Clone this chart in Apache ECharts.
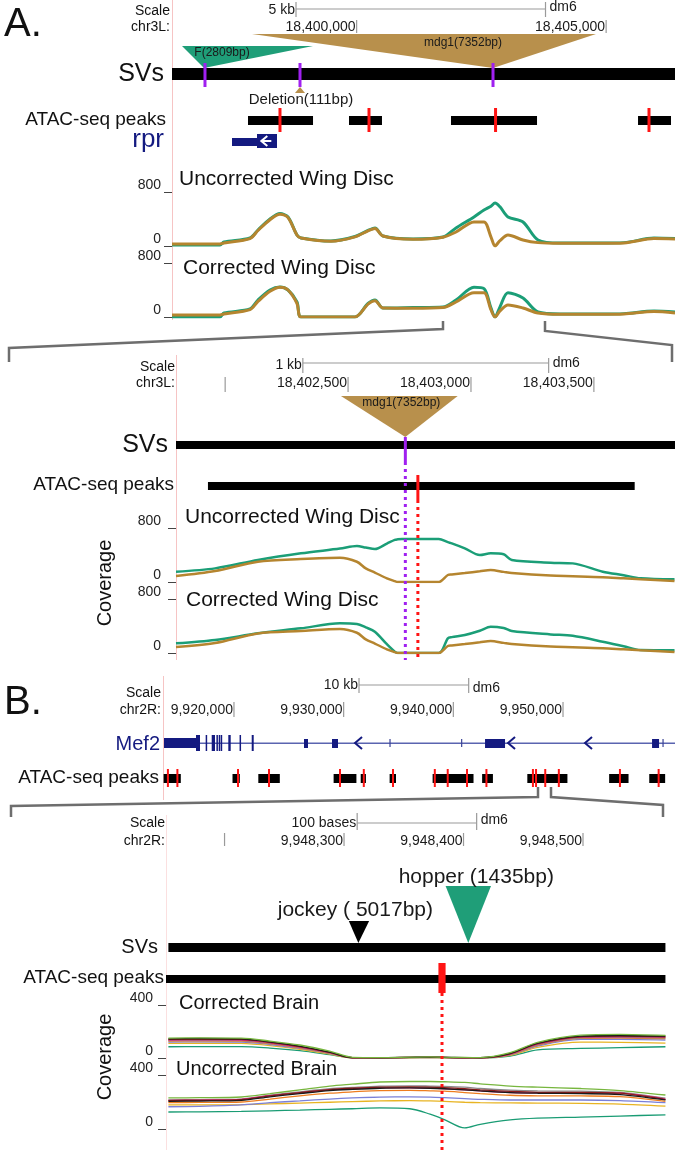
<!DOCTYPE html>
<html><head><meta charset="utf-8">
<script src="https://cdn.jsdelivr.net/npm/echarts@6/dist/echarts.min.js"></script>
<style>html,body{margin:0;padding:0;background:#fff}#c{width:675px;height:1150px}</style>
</head><body><div id="c"></div>
<script>
// ================= DATA =================
// ---- Panel A overview (chr3L) ----
const A_domain = [18396300, 18406380];
const A_ticks = [18400000, 18405000];
const A_tickLabels = ['18,400,000', '18,405,000'];
const A_scaleBar = [18398785, 18403785];
const A_svSpan = [18396300, 18406380];
const A_mdg1 = [18402733, 18397903, 18404797];   // insertion point, glyph left, glyph right
const A_F = [18396941, 18396500, 18399126];
const A_breakpoints = [18396961, 18398865, 18402733];
const A_deletion = [18398865];
const A_peaks = [[18397823, 18399126], [18399847, 18400508], [18401891, 18403615], [18405639, 18406300]];
const A_summits = [18398464, 18400248, 18402784, 18405859];
const A_rprUtr = [[18397502, 18398003]];
const A_rprCds = [[18398003, 18398404]];
const A_rprArrow = [18398110];
const A_covPos = [18396300, 18397262, 18397342, 18397863, 18398023, 18398264, 18398464, 18398625, 18398805, 18398885, 18399486, 18399967, 18400228, 18400368, 18400528, 18401130, 18401731, 18401991, 18402352, 18402552, 18402693, 18402773, 18402873, 18403033, 18403334, 18403635, 18404076, 18404877, 18405358, 18405959, 18406380];
const A_uncorGreen = [15, 15, 59, 119, 237, 400, 480, 430, 163, 120, 74, 140, 230, 267, 148, 104, 133, 267, 430, 533, 590, 637, 580, 430, 356, 89, 44, 44, 50, 119, 110];
const A_uncorBrown = [30, 30, 45, 110, 230, 390, 470, 420, 160, 118, 70, 135, 225, 260, 148, 100, 130, 207, 356, 356, 133, 0, 80, 163, 89, 50, 40, 40, 45, 110, 105];
const A_corGreen = [0, 0, 59, 119, 252, 400, 444, 400, 222, 0, 0, 0, 200, 252, 133, 140, 148, 252, 440, 420, 133, 0, 150, 360, 281, 74, 44, 44, 50, 89, 74];
const A_corBrown = [30, 30, 45, 110, 230, 380, 440, 400, 200, 0, 0, 0, 190, 240, 133, 130, 140, 222, 360, 360, 104, 0, 90, 178, 133, 59, 40, 40, 45, 80, 60];

// ---- Panel A zoom ----
const Az_domain = [18401800, 18403830];
const Az_ticks = [18402000, 18402500, 18403000, 18403500];
const Az_tickLabels = ['', '18,402,500', '18,403,000', '18,403,500'];
const Az_scaleBar = [18402316, 18403316];
const Az_svSpan = [18401800, 18403830];
const Az_mdg1 = [18402733, 18402471, 18402946];
const Az_breakpoint = [18402733];
const Az_peaks = [[18401930, 18403666]];
const Az_summit = [18402784];
const Az_covPos = [18401800, 18401959, 18402133, 18402308, 18402467, 18402536, 18402572, 18402609, 18402658, 18402690, 18402702, 18402719, 18402869, 18402906, 18402922, 18402975, 18403036, 18403080, 18403133, 18403166, 18403324, 18403414, 18403536, 18403621, 18403690, 18403828];
const Az_uncorGreen = [153, 202, 326, 425, 495, 533, 510, 489, 570, 625, 632, 637, 637, 590, 573, 499, 400, 425, 410, 326, 286, 276, 153, 100, 54, 39];
const Az_uncorBrown = [89, 163, 301, 341, 361, 300, 202, 140, 54, 12, 0, 0, 0, 104, 112, 133, 158, 178, 150, 133, 95, 86, 72, 54, 40, 15];
const Az_corGreen = [143, 193, 291, 365, 440, 430, 380, 316, 130, 20, 0, 0, 0, 217, 235, 267, 330, 390, 370, 326, 275, 255, 168, 100, 44, 40];
const Az_corBrown = [89, 148, 290, 326, 356, 300, 202, 140, 54, 12, 0, 0, 0, 104, 112, 133, 158, 178, 150, 133, 95, 86, 72, 54, 40, 15];

// ---- Panel B overview (chr2R) ----
const B_domain = [9913530, 9960210];
const B_ticks = [9920000, 9930000, 9940000, 9950000];
const B_tickLabels = ['9,920,000', '9,930,000', '9,940,000', '9,950,000'];
const B_scaleBar = [9931400, 9941400];
const B_mef2Span = [9913621, 9960210];
const B_mef2Utr = [[9913621, 9916539]];
const B_mef2Cds = [[9916539, 9916904], [9917420, 9917520], [9917971, 9918271], [9918400, 9918470], [9918610, 9918680], [9918790, 9918860], [9919484, 9919703], [9920510, 9920600], [9921618, 9921800]];
const B_mef2Small = [[9926387, 9926752], [9928939, 9929486], [9942890, 9944714], [9958117, 9958756]];
const B_mef2Thin = [9934228, 9940760, 9959120];
const B_mef2Arrows = [9931037, 9944987, 9952006];
const B_peaks = [[9913585, 9915153], [9919867, 9920533], [9922220, 9924180], [9929085, 9931164], [9931556, 9932030], [9934191, 9934775], [9938112, 9941841], [9942625, 9943610], [9946746, 9950402], [9954205, 9955974], [9957862, 9959312]];
const B_summits = [9913977, 9914843, 9920368, 9923195, 9929669, 9931838, 9934502, 9938312, 9939488, 9941249, 9943018, 9947257, 9947540, 9948380, 9949619, 9955190, 9958719];

// ---- Panel B zoom ----
const Bz_domain = [9948151, 9948577];
const Bz_ticks = [9948200, 9948300, 9948400, 9948500];
const Bz_tickLabels = ['', '9,948,300', '9,948,400', '9,948,500'];
const Bz_scaleBar = [9948311, 9948411];
const Bz_hopper = [9948404, 9948385, 9948423];
const Bz_jockey = [9948312, 9948304, 9948321];
const Bz_svSpan = [9948153, 9948569];
const Bz_peaks = [[9948151, 9948569]];
const Bz_summit = [[9948379, 9948385]];
const Bz_summitLine = [9948382];
const Bz_covPos = [9948153, 9948179, 9948214, 9948238, 9948263, 9948288, 9948307, 9948330, 9948355, 9948372, 9948384, 9948401, 9948414, 9948439, 9948462, 9948498, 9948531, 9948569];
const brainNames = ['teal', 'yellow', 'blue', 'orange', 'gray', 'pink', 'darkred', 'black', 'green'];
const Bz_corrected = {
  green:   [150, 152, 150, 128, 98, 52, 5, 3, 6, 8, 6, 4, 3, 40, 118, 172, 178, 170],
  black:   [145, 147, 145, 122, 90, 45, 3, 2, 5, 7, 5, 3, 2, 35, 112, 165, 170, 165],
  darkred: [140, 142, 140, 118, 86, 42, 2, 2, 4, 6, 4, 2, 2, 32, 108, 160, 165, 160],
  pink:    [135, 137, 136, 115, 82, 40, 2, 2, 4, 5, 4, 2, 2, 30, 104, 158, 160, 158],
  gray:    [132, 134, 132, 112, 80, 38, 2, 2, 4, 5, 4, 2, 2, 28, 100, 152, 155, 152],
  orange:  [128, 130, 128, 108, 77, 36, 2, 1, 3, 4, 3, 1, 1, 26, 96, 148, 150, 146],
  blue:    [120, 122, 120, 102, 72, 34, 2, 1, 3, 4, 3, 1, 1, 24, 90, 140, 140, 136],
  yellow:  [110, 112, 110, 94, 66, 30, 1, 1, 2, 3, 2, 1, 1, 20, 80, 120, 118, 113],
  teal:    [85, 86, 86, 75, 55, 25, 1, 1, 2, 3, 2, 1, 1, 15, 62, 72, 78, 85]
};
const Bz_uncorrected = {
  green:   [230, 232, 237, 262, 290, 318, 332, 348, 352, 352, 350, 345, 335, 318, 310, 300, 285, 252],
  gray:    [215, 218, 222, 250, 275, 298, 308, 318, 320, 318, 316, 310, 300, 288, 282, 280, 272, 228],
  darkred: [210, 212, 218, 245, 270, 292, 302, 310, 312, 310, 306, 298, 290, 278, 272, 272, 265, 218],
  pink:    [212, 214, 220, 247, 268, 290, 298, 304, 305, 302, 298, 290, 282, 270, 268, 270, 265, 222],
  black:   [205, 207, 212, 238, 262, 285, 294, 302, 304, 302, 298, 290, 282, 270, 265, 262, 255, 215],
  orange:  [195, 197, 200, 222, 245, 265, 275, 285, 286, 283, 280, 270, 262, 250, 246, 245, 240, 205],
  blue:    [165, 168, 178, 195, 208, 222, 230, 236, 238, 236, 232, 225, 220, 215, 215, 215, 210, 195],
  yellow:  [178, 179, 180, 186, 192, 198, 203, 208, 210, 208, 205, 198, 195, 193, 192, 190, 185, 170],
  teal:    [126, 127, 130, 135, 140, 146, 150, 156, 150, 110, 70, 8, 35, 67, 80, 88, 96, 105]
};

// ================= STYLE =================
const FONT = "'Liberation Sans', Arial, Helvetica, sans-serif";
const GREEN = '#1b9e77', BROWN = '#b5852f', TRI_BROWN = '#b8904c', TRI_GREEN = '#1f9e78';
const PURPLE = '#a020f0', RED = '#ff1414', NAVY = '#141a80', RULER = '#9a9a9a';
const brainColors = {green: '#77b63e', black: '#1a1a1a', darkred: '#8b1c1c', pink: '#e0257f', gray: '#8a8a8a', orange: '#ee7d1f', blue: '#7a80d8', yellow: '#e8b423', teal: '#1a9c74'};

const grids = [], xAxes = [], yAxes = [], series = [];
function addGrid(left, top, width, height, domain, yMax, cov) {
  const gi = grids.length;
  grids.push({left: left, top: top, width: width, height: height, containLabel: false, outerBoundsMode: 'none'});
  xAxes.push({gridIndex: gi, type: 'value', min: domain[0], max: domain[1], show: false, splitLine: {show: false}});
  if (cov) {
    yAxes.push({gridIndex: gi, type: 'value', min: 0, max: yMax, interval: yMax, show: true,
      axisLine: {show: false}, splitLine: {show: false},
      axisTick: {show: true, length: cov.tick, lineStyle: {color: '#444', width: 1}},
      axisLabel: {show: true, margin: cov.margin, fontSize: 14, fontFamily: FONT, color: '#222', verticalAlign: 'bottom'}});
  } else {
    yAxes.push({gridIndex: gi, type: 'value', min: 0, max: yMax, inverse: true, show: false, splitLine: {show: false}});
  }
  return gi;
}
function custom(gi, data, render, z) {
  return {type: 'custom', coordinateSystem: 'cartesian2d', xAxisIndex: gi, yAxisIndex: gi, data: data,
    renderItem: render, silent: true, animation: false, clip: false, z: z || 2};
}
function bars(gi, spans, y0, y1, color, minW) {
  return custom(gi, spans, function (p, api) {
    const a = api.coord([api.value(0), y0]), b = api.coord([api.value(1), y1]);
    const w = Math.max(b[0] - a[0], minW || 1);
    return {type: 'rect', shape: {x: a[0], y: a[1], width: w, height: b[1] - a[1]}, style: {fill: color}};
  });
}
function vmarks(gi, pos, y0, y1, color, w, dash, z) {
  return custom(gi, pos.map(v => [v, 0]), function (p, api) {
    const a = api.coord([api.value(0), y0]), b = api.coord([api.value(0), y1]);
    return {type: 'line', shape: {x1: a[0], y1: a[1], x2: b[0], y2: b[1]},
      style: {stroke: color, lineWidth: w, lineDash: dash || null}};
  }, z);
}
function ruler(gi, ticks, labels, t0, t1, ly) {
  return custom(gi, ticks.map((t, i) => [t, i]), function (p, api) {
    const i = api.value(1);
    const a = api.coord([api.value(0), t0]), b = api.coord([api.value(0), t1]), c = api.coord([api.value(0), ly]);
    const ch = [{type: 'line', shape: {x1: a[0], y1: a[1], x2: b[0], y2: b[1]}, style: {stroke: RULER, lineWidth: 1.2}}];
    if (labels[i]) ch.push({type: 'text', style: {text: labels[i], x: a[0] - 1, y: c[1], align: 'right', verticalAlign: 'middle', fontSize: 14, fontFamily: FONT, fill: '#1a1a1a'}});
    return {type: 'group', children: ch};
  });
}
function scaleBar(gi, span, label, by, t0, t1, ty, dy) {
  return custom(gi, [[span[0], span[1]]], function (p, api) {
    const a = api.coord([api.value(0), by]), b = api.coord([api.value(1), by]);
    const a0 = api.coord([api.value(0), t0]), a1 = api.coord([api.value(0), t1]);
    const b0 = api.coord([api.value(1), t0]), b1 = api.coord([api.value(1), t1]);
    const yt = api.coord([api.value(0), ty])[1], yd = api.coord([api.value(0), dy])[1];
    return {type: 'group', children: [
      {type: 'line', shape: {x1: a[0], y1: a[1], x2: b[0], y2: b[1]}, style: {stroke: RULER, lineWidth: 1.2}},
      {type: 'line', shape: {x1: a0[0], y1: a0[1], x2: a1[0], y2: a1[1]}, style: {stroke: RULER, lineWidth: 1.2}},
      {type: 'line', shape: {x1: b0[0], y1: b0[1], x2: b1[0], y2: b1[1]}, style: {stroke: RULER, lineWidth: 1.2}},
      {type: 'text', style: {text: label, x: a[0] - 1, y: yt, align: 'right', verticalAlign: 'middle', fontSize: 14, fontFamily: FONT, fill: '#1a1a1a'}},
      {type: 'text', style: {text: 'dm6', x: b[0] + 4, y: yd, align: 'left', verticalAlign: 'middle', fontSize: 14, fontFamily: FONT, fill: '#1a1a1a'}}
    ]};
  });
}
function triangle(gi, tri, yTop, yApex, color, label, ly, fs, dx, z) {
  return custom(gi, [tri], function (p, api) {
    const ap = api.coord([api.value(0), yApex]), l = api.coord([api.value(1), yTop]), r = api.coord([api.value(2), yTop]);
    const yl = api.coord([api.value(0), ly])[1];
    return {type: 'group', children: [
      {type: 'polygon', shape: {points: [l, r, ap]}, style: {fill: color}},
      {type: 'text', style: {text: label, x: ap[0] + dx, y: yl, align: 'center', verticalAlign: 'middle', fontSize: fs, fontFamily: FONT, fill: '#1a1a1a'}}
    ]};
  }, z);
}
function lineSeries(gi, pos, vals, color, width, smooth, z) {
  return {type: 'line', xAxisIndex: gi, yAxisIndex: gi, data: pos.map((x, i) => [x, vals[i]]),
    showSymbol: false, symbol: 'none', smooth: smooth, lineStyle: {color: color, width: width},
    silent: true, animation: false, z: z || 3};
}
function chevrons(gi, pos, y, color, w, h, lw, z) {
  return custom(gi, pos.map(v => [v, 0]), function (p, api) {
    const c = api.coord([api.value(0), y]);
    return {type: 'polyline', shape: {points: [[c[0] + w, c[1] - h], [c[0], c[1]], [c[0] + w, c[1] + h]]},
      style: {stroke: color, lineWidth: lw, fill: null}};
  }, z);
}

// ================= LAYOUT =================
// Panel A overview
const gA = addGrid(172, 0, 503, 150, A_domain, 150);
const gA1 = addGrid(172, 192, 503, 54, A_domain, 800, {tick: 8, margin: 11});
const gA2 = addGrid(172, 263, 503, 54, A_domain, 800, {tick: 8, margin: 11});
series.push(scaleBar(gA, A_scaleBar, '5 kb', 9, 2, 17, 10, 7));
series.push(ruler(gA, A_ticks, A_tickLabels, 20, 33, 27));
series.push(triangle(gA, A_mdg1, 34, 68, TRI_BROWN, 'mdg1(7352bp)', 43, 12, -30, 2));
series.push(triangle(gA, A_F, 46, 68, TRI_GREEN, 'F(2809bp)', 53, 12, 18, 3));
series.push(bars(gA, [A_svSpan], 68, 80, '#000'));
series.push(vmarks(gA, A_breakpoints, 63, 87, PURPLE, 3, null, 4));
series.push(custom(gA, A_deletion.map(v => [v, 0]), function (p, api) {
  const c = api.coord([api.value(0), 87]), d = api.coord([api.value(0), 93]), t = api.coord([api.value(0), 100]);
  return {type: 'group', children: [
    {type: 'polygon', shape: {points: [[c[0], c[1]], [c[0] + 5, d[1]], [c[0] - 5, d[1]]]}, style: {fill: TRI_BROWN}},
    {type: 'text', style: {text: 'Deletion(111bp)', x: c[0] + 1, y: t[1], align: 'center', verticalAlign: 'middle', fontSize: 15, fontFamily: FONT, fill: '#1a1a1a'}}
  ]};
}, 4));
series.push(bars(gA, A_peaks, 116, 125, '#000'));
series.push(vmarks(gA, A_summits, 108, 132, RED, 3, null, 4));
series.push(bars(gA, A_rprUtr, 138, 146, NAVY));
series.push(bars(gA, A_rprCds, 134, 148, NAVY));
series.push(custom(gA, A_rprArrow.map(v => [v, 0]), function (p, api) {
  const c = api.coord([api.value(0), 141]);
  return {type: 'group', children: [
    {type: 'polyline', shape: {points: [[c[0] + 5, c[1] - 5], [c[0] - 1, c[1]], [c[0] + 5, c[1] + 5]]}, style: {stroke: '#fff', lineWidth: 2, fill: null}},
    {type: 'line', shape: {x1: c[0], y1: c[1], x2: c[0] + 9, y2: c[1]}, style: {stroke: '#fff', lineWidth: 2}}
  ]};
}, 4));
series.push(lineSeries(gA1, A_covPos, A_uncorGreen, GREEN, 3, 0.3, 3));
series.push(lineSeries(gA1, A_covPos, A_uncorBrown, BROWN, 3, 0.3, 4));
series.push(lineSeries(gA2, A_covPos, A_corGreen, GREEN, 3, 0.3, 3));
series.push(lineSeries(gA2, A_covPos, A_corBrown, BROWN, 3, 0.3, 4));

// Panel A zoom
const gZ = addGrid(176, 350, 499, 310, Az_domain, 310);
const gZ1 = addGrid(176, 528, 499, 54, Az_domain, 800, {tick: 8, margin: 15});
const gZ2 = addGrid(176, 599, 499, 54, Az_domain, 800, {tick: 8, margin: 15});
series.push(scaleBar(gZ, Az_scaleBar, '1 kb', 13, 8, 23, 15, 13));
series.push(ruler(gZ, Az_ticks, Az_tickLabels, 27, 42, 33));
series.push(triangle(gZ, Az_mdg1, 46, 87, TRI_BROWN, 'mdg1(7352bp)', 53, 12, -4, 2));
series.push(bars(gZ, [Az_svSpan], 91, 99, '#000'));
series.push(vmarks(gZ, Az_breakpoint, 87, 112, PURPLE, 3, null, 5));
series.push(vmarks(gZ, Az_breakpoint, 112, 310, PURPLE, 3, [3, 4], 6));
series.push(bars(gZ, Az_peaks, 132, 140, '#000'));
series.push(vmarks(gZ, Az_summit, 125, 150, RED, 3, null, 5));
series.push(vmarks(gZ, Az_summit, 150, 310, RED, 3, [3, 4], 6));
series.push(lineSeries(gZ1, Az_covPos, Az_uncorGreen, GREEN, 2.5, 0.3, 3));
series.push(lineSeries(gZ1, Az_covPos, Az_uncorBrown, BROWN, 2.5, 0.3, 4));
series.push(lineSeries(gZ2, Az_covPos, Az_corGreen, GREEN, 2.5, 0.3, 3));
series.push(lineSeries(gZ2, Az_covPos, Az_corBrown, BROWN, 2.5, 0.3, 4));

// Panel B overview
const gB = addGrid(163, 675, 512, 125, B_domain, 125);
series.push(scaleBar(gB, B_scaleBar, '10 kb', 10, 3, 18, 10, 13));
series.push(ruler(gB, B_ticks, B_tickLabels, 27, 42, 35));
series.push(bars(gB, [B_mef2Span], 67.5, 69, '#5a64b0'));
series.push(bars(gB, B_mef2Utr, 63, 73, NAVY));
series.push(bars(gB, B_mef2Cds, 60, 76, NAVY, 1.5));
series.push(bars(gB, B_mef2Small, 64, 73, NAVY, 1.5));
series.push(vmarks(gB, B_mef2Thin, 64, 72, '#3a4396', 1.2));
series.push(chevrons(gB, B_mef2Arrows, 68, NAVY, 7, 6, 2, 3));
series.push(bars(gB, B_peaks, 99, 108, '#000'));
series.push(vmarks(gB, B_summits, 94, 112, RED, 2, null, 4));

// Panel B zoom
const gC = addGrid(166, 815, 509, 335, Bz_domain, 335);
const gC1 = addGrid(166, 1005, 509, 53, Bz_domain, 400, {tick: 8, margin: 13});
const gC2 = addGrid(166, 1075, 509, 54, Bz_domain, 400, {tick: 8, margin: 13});
series.push(scaleBar(gC, Bz_scaleBar, '100 bases', 8, -2, 15, 8, 5));
series.push(ruler(gC, Bz_ticks, Bz_tickLabels, 18, 31, 26));
series.push(triangle(gC, Bz_hopper, 71, 128, TRI_GREEN, 'hopper (1435bp)', 62, 21, 8, 2));
series.push(triangle(gC, Bz_jockey, 106, 128, '#000', 'jockey ( 5017bp)', 95, 21, -3, 2));
series.push(bars(gC, [Bz_svSpan], 128, 137, '#000'));
series.push(bars(gC, Bz_peaks, 160, 168, '#000'));
series.push(bars(gC, Bz_summit, 148, 178, RED));
series.push(vmarks(gC, Bz_summitLine, 178, 335, RED, 3, [3, 4], 6));
brainNames.forEach(function (n, k) {
  series.push(lineSeries(gC1, Bz_covPos, Bz_corrected[n], brainColors[n], 1.3, 0.3, 3 + k * 0.01));
  series.push(lineSeries(gC2, Bz_covPos, Bz_uncorrected[n], brainColors[n], 1.3, 0.3, 3 + k * 0.01));
});

// ================= TEXT & DECORATION =================
function txt(x, y, text, size, align, color, extra) {
  return Object.assign({type: 'text', x: x, y: y, silent: true, z: 10,
    style: {text: text, fontSize: size, fontFamily: FONT, fill: color || '#111',
      align: align || 'left', textAlign: align || 'left', verticalAlign: 'middle', textVerticalAlign: 'middle'}}, extra || {});
}
function pline(points, color, w) {
  return {type: 'polyline', silent: true, z: 1, shape: {points: points}, style: {stroke: color, lineWidth: w, fill: null}};
}
const gfx = [
  pline([[172.5, 0], [172.5, 320]], '#f6c4c4', 1),
  pline([[176.5, 355], [176.5, 660]], '#f6c4c4', 1),
  pline([[163.5, 676], [163.5, 800]], '#f6c4c4', 1),
  pline([[166.5, 815], [166.5, 1150]], '#fbe0e0', 1),
  txt(4, 25, 'A.', 40, 'left', '#111'),
  txt(170, 11, 'Scale', 14, 'right'),
  txt(170, 27, 'chr3L:', 14, 'right'),
  txt(164, 74, 'SVs', 25, 'right'),
  txt(166, 120, 'ATAC-seq peaks', 19, 'right'),
  txt(164, 140, 'rpr', 26, 'right', NAVY),
  txt(179, 179, 'Uncorrected Wing Disc', 21, 'left'),
  txt(183, 268, 'Corrected Wing Disc', 21, 'left'),
  pline([[9, 362], [9, 348], [443, 329], [443, 321]], '#6e6e6e', 2.5),
  pline([[545, 321], [545, 331], [672, 345], [672, 362]], '#6e6e6e', 2.5),
  txt(175, 367, 'Scale', 14, 'right'),
  txt(175, 383, 'chr3L:', 14, 'right'),
  txt(168, 445, 'SVs', 25, 'right'),
  txt(174, 485, 'ATAC-seq peaks', 19, 'right'),
  txt(185, 517, 'Uncorrected Wing Disc', 21, 'left'),
  txt(186, 600, 'Corrected Wing Disc', 21, 'left'),
  txt(105, 583, 'Coverage', 20, 'center', '#111', {rotation: Math.PI / 2}),
  txt(4, 703, 'B.', 40, 'left', '#111'),
  txt(161, 693, 'Scale', 14, 'right'),
  txt(161, 710, 'chr2R:', 14, 'right'),
  txt(160, 744, 'Mef2', 20, 'right', NAVY),
  txt(159, 778, 'ATAC-seq peaks', 19, 'right'),
  pline([[11, 817], [11, 806], [538, 797], [538, 787]], '#6e6e6e', 2.5),
  pline([[551, 787], [551, 797], [663, 805], [663, 817]], '#6e6e6e', 2.5),
  txt(165, 823, 'Scale', 14, 'right'),
  txt(165, 841, 'chr2R:', 14, 'right'),
  txt(158, 947, 'SVs', 20, 'right'),
  txt(164, 978, 'ATAC-seq peaks', 19, 'right'),
  txt(179, 1003, 'Corrected Brain', 20, 'left'),
  txt(176, 1069, 'Uncorrected Brain', 20, 'left'),
  txt(105, 1057, 'Coverage', 20, 'center', '#111', {rotation: Math.PI / 2})
];

const chart = echarts.init(document.getElementById('c'), null, {renderer: 'canvas'});
chart.setOption({
  animation: false,
  backgroundColor: '#ffffff',
  grid: grids, xAxis: xAxes, yAxis: yAxes, series: series,
  graphic: {elements: gfx}
});
</script></body></html>
